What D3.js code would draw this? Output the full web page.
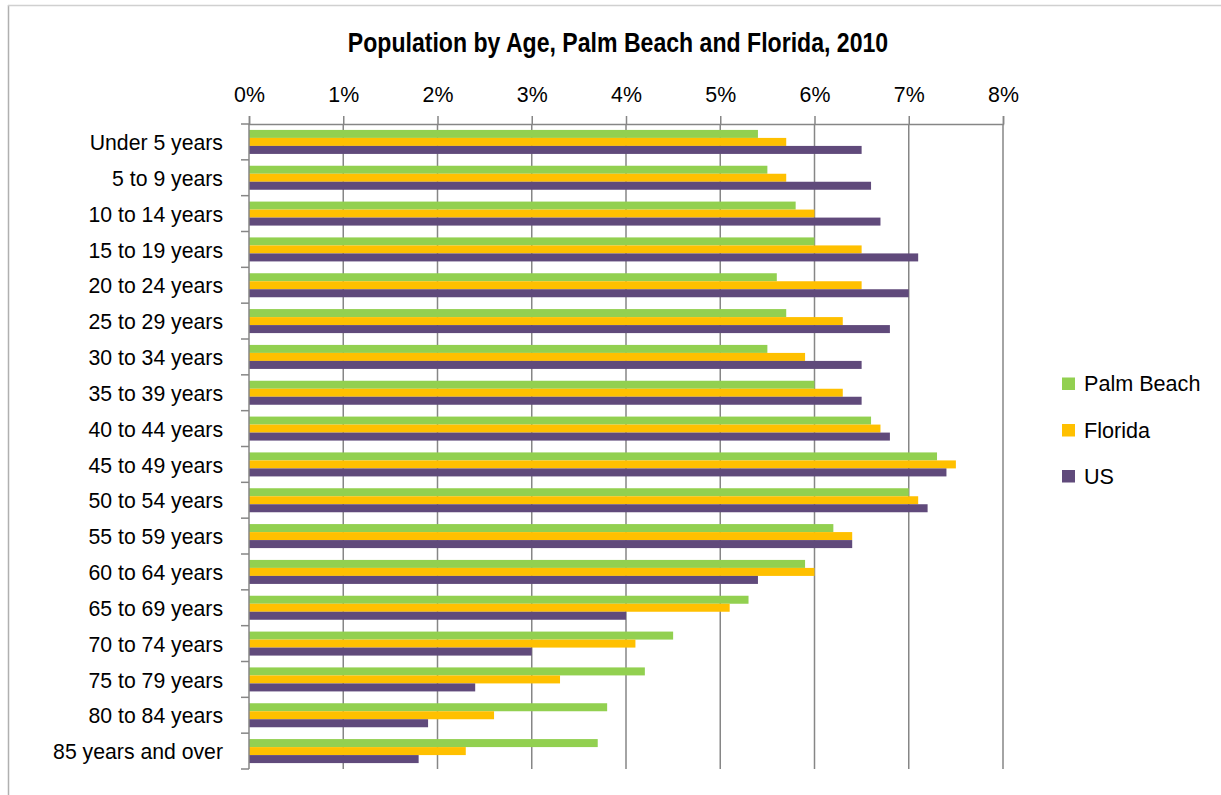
<!DOCTYPE html>
<html><head><meta charset="utf-8">
<script src="https://cdn.jsdelivr.net/npm/d3@7"></script>
<style>body{margin:0;background:#fff}svg{display:block}text{font-family:"Liberation Sans",Arial,sans-serif;fill:#000}</style>
</head><body>
<svg id="c" width="1221" height="795"></svg>
<script>
const categories = ["Under 5 years","5 to 9 years","10 to 14 years","15 to 19 years","20 to 24 years","25 to 29 years","30 to 34 years","35 to 39 years","40 to 44 years","45 to 49 years","50 to 54 years","55 to 59 years","60 to 64 years","65 to 69 years","70 to 74 years","75 to 79 years","80 to 84 years","85 years and over"];
const palmBeach = [5.4,5.5,5.8,6.0,5.6,5.7,5.5,6.0,6.6,7.3,7.0,6.2,5.9,5.3,4.5,4.2,3.8,3.7];
const florida   = [5.7,5.7,6.0,6.5,6.5,6.3,5.9,6.3,6.7,7.5,7.1,6.4,6.0,5.1,4.1,3.3,2.6,2.3];
const us        = [6.5,6.6,6.7,7.1,7.0,6.8,6.5,6.5,6.8,7.4,7.2,6.4,5.4,4.0,3.0,2.4,1.9,1.8];
const seriesNames = ["Palm Beach","Florida","US"];
const seriesColors = ["#92d050","#ffc000","#604a7b"];
const xTicks = [0,1,2,3,4,5,6,7,8];

const svg = d3.select("#c");
const L = 249, R = 1003, T = 124, B = 769;

// frame
svg.append("line").attr("x1",8.5).attr("x2",8.5).attr("y1",5).attr("y2",795).attr("stroke","#b0b0b0").attr("stroke-width",1.5);
svg.append("line").attr("x1",8).attr("x2",1221).attr("y1",5.5).attr("y2",5.5).attr("stroke","#d0d0d0").attr("stroke-width",1.5);

svg.append("text").attr("x",618).attr("y",52).attr("text-anchor","middle")
  .attr("font-size",27).attr("font-weight","bold")
  .attr("transform","translate(618,0) scale(0.855,1) translate(-618,0)")
  .text("Population by Age, Palm Beach and Florida, 2010");

const x = d3.scaleLinear().domain([0,8]).range([L,R]);
const y = d3.scaleBand().domain(categories).range([T,B]).paddingInner(0.33).paddingOuter(0.165);
const sub = d3.scaleBand().domain(seriesNames).range([0,y.bandwidth()]);

// gridlines
svg.append("g").selectAll("line").data(xTicks.slice(1)).join("line")
  .attr("x1",d=>x(d)).attr("x2",d=>x(d)).attr("y1",T).attr("y2",B)
  .attr("stroke","#868686").attr("stroke-width",1.5);

// top axis
const xAxis = d3.axisTop(x).tickValues(xTicks).tickSize(8).tickPadding(14).tickFormat(d=>d+"%");
const gx = svg.append("g").attr("transform",`translate(0,${T})`).call(xAxis);
gx.select(".domain").attr("stroke","#868686").attr("stroke-width",1.5);
gx.selectAll(".tick line").attr("stroke","#868686").attr("stroke-width",1.5);
gx.selectAll(".tick text").attr("font-size",22.5).attr("font-family","Liberation Sans, Arial, sans-serif").attr("fill","#000")
  .attr("transform","scale(0.95,1)");

// bars
const data = [palmBeach, florida, us];
seriesNames.forEach((s,i)=>{
  svg.append("g").selectAll("rect").data(categories).join("rect")
    .attr("x",x(0)).attr("y",(c)=>y(c)+sub(s))
    .attr("width",(c,j)=>x(data[i][j])-x(0))
    .attr("height",sub.bandwidth())
    .attr("fill",seriesColors[i]);
});

// left axis
const boundaries = d3.range(categories.length+1).map(i=>T+i*(B-T)/categories.length);
svg.append("line").attr("x1",L).attr("x2",L).attr("y1",T).attr("y2",B).attr("stroke","#868686").attr("stroke-width",1.5);
svg.append("g").selectAll("line").data(boundaries).join("line")
  .attr("x1",L-8).attr("x2",L).attr("y1",d=>d).attr("y2",d=>d)
  .attr("stroke","#868686").attr("stroke-width",1.5);
svg.append("g").selectAll("text").data(categories).join("text")
  .attr("x",223).attr("y",c=>y(c)+y.bandwidth()/2).attr("dy","0.37em")
  .attr("text-anchor","end").attr("font-size",22)
  .attr("transform",`translate(223,0) scale(0.965,1) translate(-223,0)`)
  .text(c=>c);

// legend
const lg = svg.append("g");
const legY = [384,430.5,476.5];
seriesNames.forEach((s,i)=>{
  lg.append("rect").attr("x",1062).attr("y",legY[i]-6.5).attr("width",13).attr("height",12.5).attr("fill",seriesColors[i]);
  lg.append("text").attr("x",1084).attr("y",legY[i]+7.5).attr("font-size",22.5)
    .attr("transform","translate(1084,0) scale(0.96,1) translate(-1084,0)").text(s);
});
</script>
</body></html>
